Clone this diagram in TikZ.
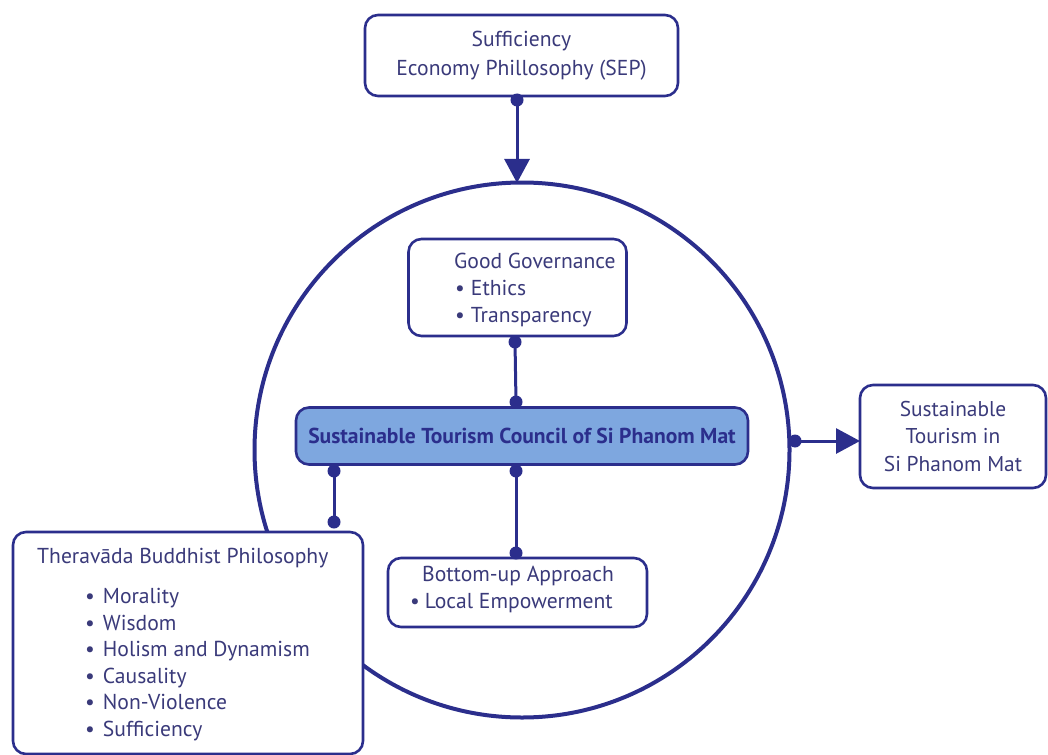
\documentclass[tikz,border=0pt]{standalone}
\usepackage{fontspec}
\setmainfont{PT Sans}
\usetikzlibrary{arrows.meta,calc}
\definecolor{navy}{HTML}{2B2E8C}
\definecolor{ink}{HTML}{3A3A7A}
\definecolor{cfill}{HTML}{7EA7DF}
\begin{document}
\begin{tikzpicture}[x=1pt,y=-1pt,
  box/.style={draw=navy, line width=2.6pt, rounded corners=13pt, fill=white},
  txt/.style={text=ink, inner sep=0pt, font=\fontsize{21.6}{27}\selectfont},
  link/.style={draw=navy, line width=3pt},
  dot/.style={circle, fill=navy, inner sep=0pt, minimum size=13pt},
  tip/.style={-{Triangle[length=24pt,width=25pt]}}]
\useasboundingbox (0,0) rectangle (1048,754);

% big circle
\node[draw=navy, line width=4pt, circle, minimum size=535pt, inner sep=0pt] (ring) at (522,450) {};

% SEP
\node[box, txt, align=center, font=\fontsize{21.6}{29}\selectfont, minimum width=313pt, minimum height=81pt] (sep) at (521.5,55.5) {Sufficiency\\Economy Phillosophy (SEP)};

% Good governance
\node[box, minimum width=218pt, minimum height=97pt] (gg) at (517.5,287.5) {};
\node[txt, anchor=west, align=left] (ggt) at (454,290) {Good Governance\\\hspace{1pt}\textbullet\hspace{6pt}Ethics\\\hspace{1pt}\textbullet\hspace{6pt}Transparency};

% Council
\node[draw=navy, line width=2.6pt, rounded corners=13pt, fill=cfill, minimum width=452pt, minimum height=57pt, text=navy, font=\bfseries\fontsize{21.6}{24}\selectfont] (council) at (522,436) {Sustainable Tourism Council of Si Phanom Mat};

% Sustainable tourism
\node[box, txt, align=center, font=\fontsize{21.4}{27.5}\selectfont, minimum width=186pt, minimum height=103pt] (st) at (953,436.5) {Sustainable\\Tourism in\\Si Phanom Mat};

% Bottom-up
\node[box, minimum width=259pt, minimum height=69pt] (bu) at (517.5,592.5) {};
\node[txt, anchor=west, align=left] (but) at (410,589.5) {\hspace{12pt}Bottom-up Approach\\\textbullet\hspace{5pt}Local Empowerment};

% Theravada
\node[box, minimum width=350pt, minimum height=222pt] (th) at (188,643) {};
\node[txt, anchor=west] (tht) at (37,558) {Theravāda Buddhist Philosophy};
\node[txt, anchor=west, align=left, font=\fontsize{21.6}{26.6}\selectfont] (thl) at (85,664.5) {\textbullet\hspace{8pt}Morality\\\textbullet\hspace{8pt}Wisdom\\\textbullet\hspace{8pt}Holism and Dynamism\\\textbullet\hspace{8pt}Causality\\\textbullet\hspace{8pt}Non-Violence\\\textbullet\hspace{8pt}Sufficiency};

% dots
\node[dot] (d1) at (517,100) {};
\node[dot] (d2) at (515,342) {};
\node[dot] (d3) at (516,402) {};
\node[dot] (d4) at (334,471) {};
\node[dot] (d5) at (516,471) {};
\node[dot] (d6) at (334,522) {};
\node[dot] (d7) at (516,553) {};
\node[dot] (d8) at (795,441) {};
\coordinate (ringtop) at (517,183);
\coordinate (stin) at (860,441);

% connectors
\draw[link,tip] (d1.center) -- (ringtop);
\draw[link] (d2.center) -- (d3.center);
\draw[link] (d4.center) -- (d6.center);
\draw[link] (d5.center) -- (d7.center);
\draw[link,tip] (d8.center) -- (stin);
\end{tikzpicture}
\end{document}
